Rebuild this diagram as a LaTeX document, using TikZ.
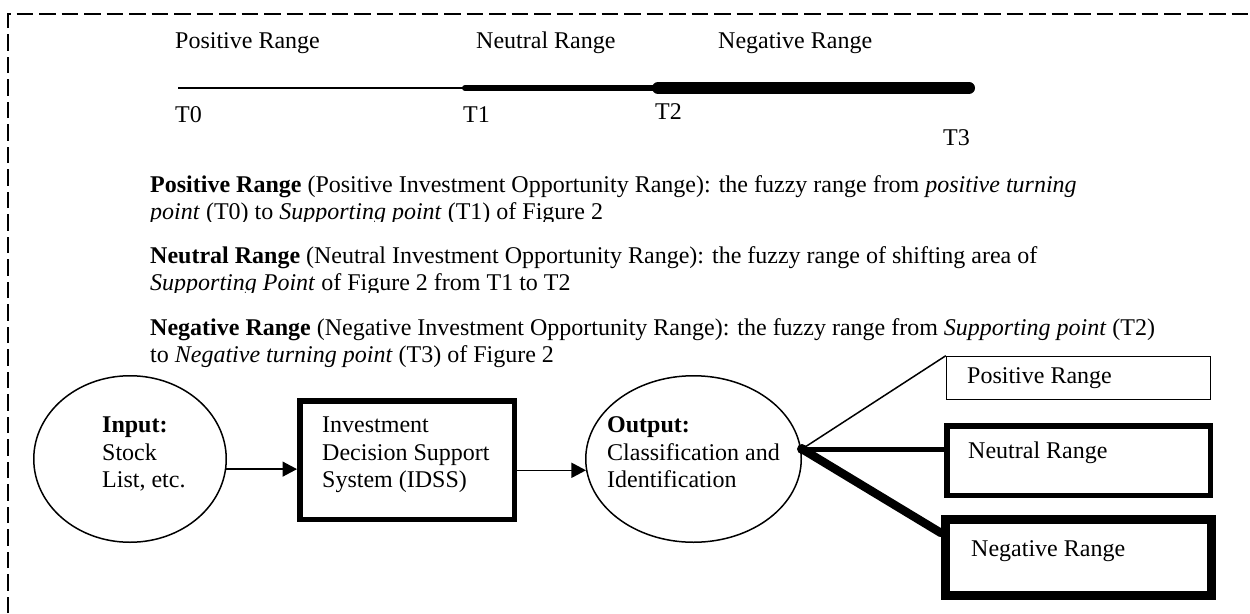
\documentclass[tikz,border=0pt]{standalone}
\usepackage{fontspec}
\setmainfont{Liberation Serif}
\usetikzlibrary{shapes.geometric,arrows.meta,calc}
\begin{document}
\begin{tikzpicture}[x=1pt,y=-1pt,
  lbl/.style={inner sep=0pt,anchor=base west,font=\fontsize{24}{27.6}\selectfont},
  para/.style={inner sep=0pt,anchor=base west,font=\fontsize{24}{27.6}\selectfont},
  boxtxt/.style={inner sep=0pt,anchor=north west,align=left,font=\fontsize{24}{27.6}\selectfont},
  oval/.style={draw,ellipse,line width=1.5pt,inner sep=0pt},
  flow/.style={line width=1.5pt,-{Triangle[length=14.5pt,width=15pt]}},
  rangebox/.style={draw,rectangle,inner sep=0pt}]
\useasboundingbox (0,0) rectangle (1250,613);

% dashed frame
\draw[line width=2pt,dash pattern=on 16.5pt off 6pt] (8,613) -- (8,14) -- (1250,14);

% range labels above the scale
\node[lbl] (lpos) at (175,48) {Positive Range};
\node[lbl] (lneu) at (476,48) {Neutral Range};
\node[lbl] (lneg) at (718,48) {Negative Range};

% the scale, thickening from T0 to T3
\coordinate (s0) at (178,88);
\coordinate (s1) at (465,88);
\coordinate (s2) at (658,88);
\coordinate (s3) at (969,88);
\draw[line width=1.5pt] (s0) -- (s1);
\draw[line width=6pt,line cap=round] (s1) -- (s2);
\draw[line width=12pt,line cap=round] (s2) -- (s3);

\node[lbl] (t0) at (175,122) {T0};
\node[lbl] (t1) at (463,122) {T1};
\node[lbl] (t2) at (655,119) {T2};
\node[lbl] (t3) at (943,145) {T3};

% definitions (the second line of the first two is cut off just below its baseline)
\node[para] (dpos1) at (150,192) {\textbf{Positive Range} (Positive Investment Opportunity Range): the fuzzy range from \textit{positive turning}};
\begin{scope}
\clip (140,200) rectangle (1100,221.6);
\node[para] (dpos2) at (150,219.6) {\textit{point} (T0) to \textit{Supporting point} (T1) of Figure 2};
\end{scope}
\node[para] (dneu1) at (150,263) {\textbf{Neutral Range} (Neutral Investment Opportunity Range): the fuzzy range of shifting area of};
\begin{scope}
\clip (140,271) rectangle (1100,292.6);
\node[para] (dneu2) at (150,290.6) {\textit{Supporting Point} of Figure 2 from T1 to T2};
\end{scope}
\node[para] (dneg1) at (150,335) {\textbf{Negative Range} (Negative Investment Opportunity Range): the fuzzy range from \textit{Supporting point} (T2)};
\node[para] (dneg2) at (150,362.6) {to \textit{Negative turning point} (T3) of Figure 2};

% flow of the system
\node[oval,minimum width=192.5pt,minimum height=166.5pt] (in) at (130,459) {};
\node[boxtxt] (intxt) at (102,416.5) {\textbf{Input:}\\Stock\\List, etc.};

\node[rangebox,line width=5.5pt,minimum width=214.5pt,minimum height=118.5pt] (idss) at (407,460) {};
\node[boxtxt] (idsstxt) at (322,416.5) {Investment\\Decision Support\\System (IDSS)};

\node[oval,minimum width=215.5pt,minimum height=166.5pt] (out) at (693.5,459) {};
\node[boxtxt] (outtxt) at (607,416.5) {\textbf{Output:}\\Classification and\\Identification};

\draw[flow] (in.-6.6) -- (in.-6.6 -| idss.west);
\draw[flow] (idss.east |- out.186) -- (out.186);

% the three classes
\node[rangebox,line width=1.5pt,minimum width=264pt,minimum height=43pt] (pos) at (1078.5,378) {};
\node[lbl] (postxt) at (967,383) {Positive Range};
\node[rangebox,line width=5.5pt,minimum width=263.5pt,minimum height=69.5pt] (neu) at (1078.5,460.5) {};
\node[lbl] (neutxt) at (968,458) {Neutral Range};
\node[rangebox,line width=9pt,minimum width=266pt,minimum height=76pt] (neg) at (1078.5,557.5) {};
\node[lbl] (negtxt) at (971,556) {Negative Range};

\coordinate (hub) at (802,449);
\draw[line width=1.5pt] (hub) -- (pos.north west);
\draw[line width=5pt,line cap=round] (hub) -- (hub -| neu.west);
\draw[line width=8.5pt,line cap=round] (hub) -- ($(neg.north west)+(0,18)$);
\fill (hub) circle (5pt);
\end{tikzpicture}
\end{document}
